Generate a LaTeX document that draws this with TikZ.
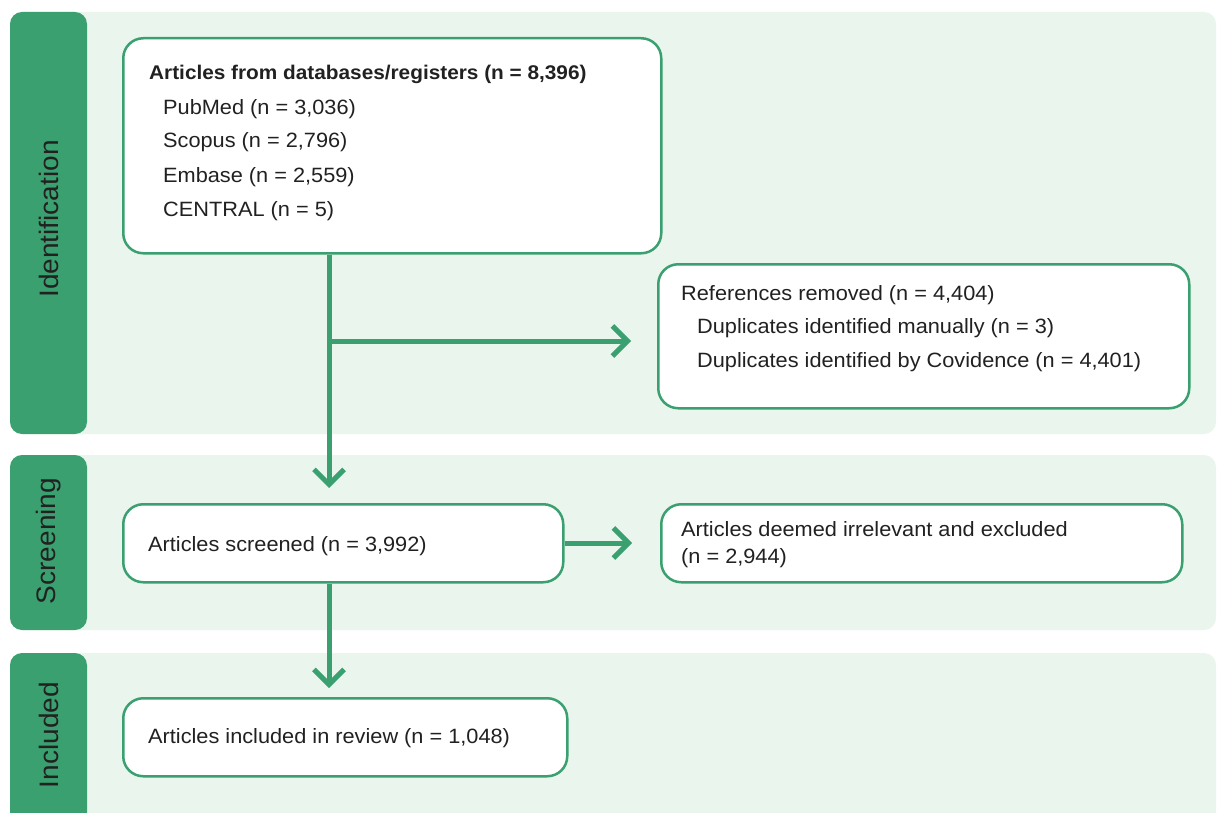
\documentclass[tikz,border=0pt]{standalone}
\usepackage{fontspec}
\setmainfont{Liberation Sans}[FakeStretch=1.05]
\usetikzlibrary{arrows.meta}
\definecolor{pgreen}{RGB}{58,160,112}
\definecolor{pband}{RGB}{234,245,237}
\definecolor{ptext}{RGB}{33,33,33}
\begin{document}
\begin{tikzpicture}[x=1pt,y=-1pt,
  band/.style={fill=pband, rounded corners=12pt},
  tag/.style={fill=pgreen, rounded corners=12pt},
  tagtext/.style={rotate=90, text=ptext, font=\fontsize{26.7}{30}\selectfont, inner sep=0pt},
  box/.style={draw=pgreen, line width=2.5pt, fill=white, rounded corners=20pt, inner sep=0pt, anchor=north west},
  txt/.style={anchor=base west, inner sep=0pt, text=ptext, font=\fontsize{20.7}{24}\selectfont},
  flow/.style={draw=pgreen, line width=5pt, -{Straight Barb[length=15pt,width=30pt]}}
]
\useasboundingbox (0,0) rectangle (1218,813);
\begin{scope}
\clip (0,0) rectangle (1218,813);
% bands
\fill[band] (10,12) rectangle (1216,434);
\fill[band] (10,455) rectangle (1216,630);
\fill[band] (10,653) rectangle (1216,840);
\fill[tag] (10,12) rectangle (87,434);
\fill[tag] (10,455) rectangle (87,630);
\fill[tag] (10,653) rectangle (87,840);
\end{scope}
\node[tagtext] (l1) at (49,219) {Identification};
\node[tagtext] (l2) at (49,541) {Screening};
\node[tagtext] (l3) at (49,735) {Included};

% boxes
\node[box, minimum width=538pt, minimum height=215pt] (A) at (122,37) {};
\node[box, minimum width=531pt, minimum height=144pt] (B) at (657,263) {};
\node[box, minimum width=440pt, minimum height=78pt] (C) at (122,503) {};
\node[box, minimum width=521pt, minimum height=78pt] (D) at (660,503) {};
\node[box, minimum width=444pt, minimum height=78pt] (E) at (122,697) {};

% texts
\node[txt, font=\fontsize{19.8}{24}\selectfont\bfseries] (a1) at (149,80) {Articles from databases/registers (n = 8,396)};
\node[txt] (a2) at (163,115) {PubMed (n = 3,036)};
\node[txt] (a3) at (163,148) {Scopus (n = 2,796)};
\node[txt] (a4) at (163,183) {Embase (n = 2,559)};
\node[txt] (a5) at (163,217) {CENTRAL (n = 5)};
\node[txt] (b1) at (681,300) {References removed (n = 4,404)};
\node[txt] (b2) at (697,333) {Duplicates identified manually (n = 3)};
\node[txt] (b3) at (697,367) {Duplicates identified by Covidence (n = 4,401)};
\node[txt] (c1) at (148,551) {Articles screened (n = 3,992)};
\node[txt] (d1) at (681,536) {Articles deemed irrelevant and excluded};
\node[txt] (d2) at (681,563) {(n = 2,944)};
\node[txt] (e1) at (148,743) {Articles included in review (n = 1,048)};

% connectors
\coordinate (t1) at (329,488);
\coordinate (j1) at (329,341);
\coordinate (t2) at (631,341);
\coordinate (t3) at (632,543);
\coordinate (t4) at (329,688);
\draw[flow] (A.south -| t1) -- (t1);
\draw[flow] (j1) -- (t2);
\draw[flow] (C.east |- t3) -- (t3);
\draw[flow] (C.south -| t4) -- (t4);
\end{tikzpicture}
\end{document}
